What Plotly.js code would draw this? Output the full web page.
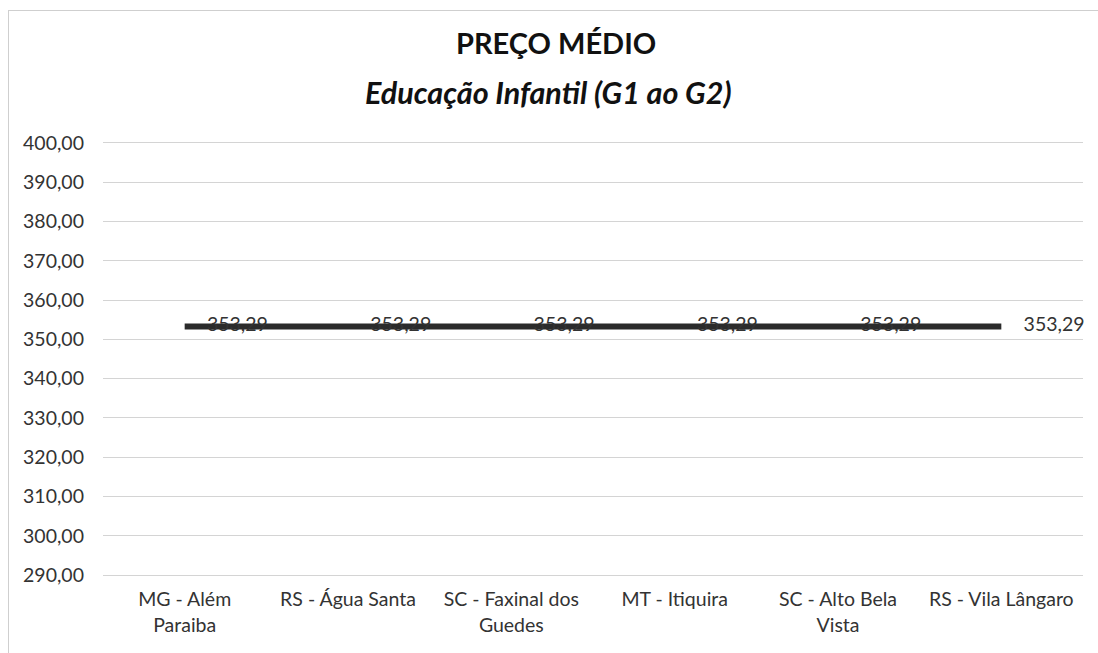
<!DOCTYPE html>
<html lang="pt-BR">
<head>
    <meta charset="UTF-8">
    <title>Preço Médio</title>
    <script src="https://cdn.jsdelivr.net/npm/plotly.js@3.0.1/dist/plotly.min.js"></script>
    <style>
        body { margin: 0; background: #fff; }
        #chart { width: 1098px; height: 653px; }
        #frame {
            position: absolute; left: 8px; top: 10px; width: 1090px; height: 650px;
            border: 1px solid #cfcfcf; pointer-events: none;
        }
    </style>
</head>
<body>
    <div id="chart"></div>
    <div id="frame"></div>
    <script>
        // cidades (eixo x)
        const cidades = [
            'MG - Além<br>Paraiba',
            'RS - Água Santa',
            'SC - Faxinal dos<br>Guedes',
            'MT - Itiquira',
            'SC - Alto Bela<br>Vista',
            'RS - Vila Lângaro'
        ];
        // preço médio
        const precos = [353.29, 353.29, 353.29, 353.29, 353.29, 353.29];

        const titulo = 'PREÇO MÉDIO';
        const subtitulo = 'Educação Infantil (G1 ao G2)';

        const fonte = 'Lato, Open Sans, sans-serif';

        const linha = {
            x: cidades,
            y: precos,
            type: 'scatter',
            mode: 'lines+markers+text',
            line: { color: '#2b2b2b', width: 6 },
            marker: { size: 34, color: 'rgba(0,0,0,0)' },
            texttemplate: '%{y:.2f}',
            textposition: 'middle right',
            textfont: { family: fonte, size: 19.5, color: '#333' },
            cliponaxis: false,
            hoverinfo: 'skip'
        };

        const layout = {
            width: 1098,
            height: 653,
            separators: ',.',
            margin: { l: 103, r: 15, t: 143, b: 78 },
            paper_bgcolor: '#fff',
            plot_bgcolor: '#fff',
            showlegend: false,
            font: { family: fonte, color: '#333' },
            annotations: [
                {
                    text: '<b>' + titulo + '</b>',
                    xref: 'paper', yref: 'paper',
                    x: 0.462, y: 1, yshift: 101,
                    xanchor: 'center', yanchor: 'middle',
                    showarrow: false,
                    font: { family: fonte, size: 29, color: '#111' }
                },
                {
                    text: '<b><i>' + subtitulo + '</i></b>',
                    xref: 'paper', yref: 'paper',
                    x: 0.455, y: 1, yshift: 51,
                    xanchor: 'center', yanchor: 'middle',
                    showarrow: false,
                    font: { family: fonte, size: 30.5, color: '#111' }
                }
            ],
            xaxis: {
                type: 'category',
                range: [-0.5, 5.5],
                showgrid: false,
                showline: true,
                mirror: true,
                linecolor: '#d4d4d4',
                linewidth: 1,
                ticks: '',
                ticklabelstandoff: 7,
                tickfont: { family: fonte, size: 19.5, color: '#333' },
                fixedrange: true
            },
            yaxis: {
                range: [290, 400],
                dtick: 10,
                tick0: 290,
                tickformat: '.2f',
                gridcolor: '#d4d4d4',
                gridwidth: 1,
                zeroline: false,
                showline: false,
                ticks: '',
                ticklabelstandoff: 18,
                tickfont: { family: fonte, size: 19.5, color: '#333' },
                fixedrange: true
            }
        };

        Plotly.newPlot('chart', [linha], layout, { staticPlot: true });
    </script>
</body>
</html>
